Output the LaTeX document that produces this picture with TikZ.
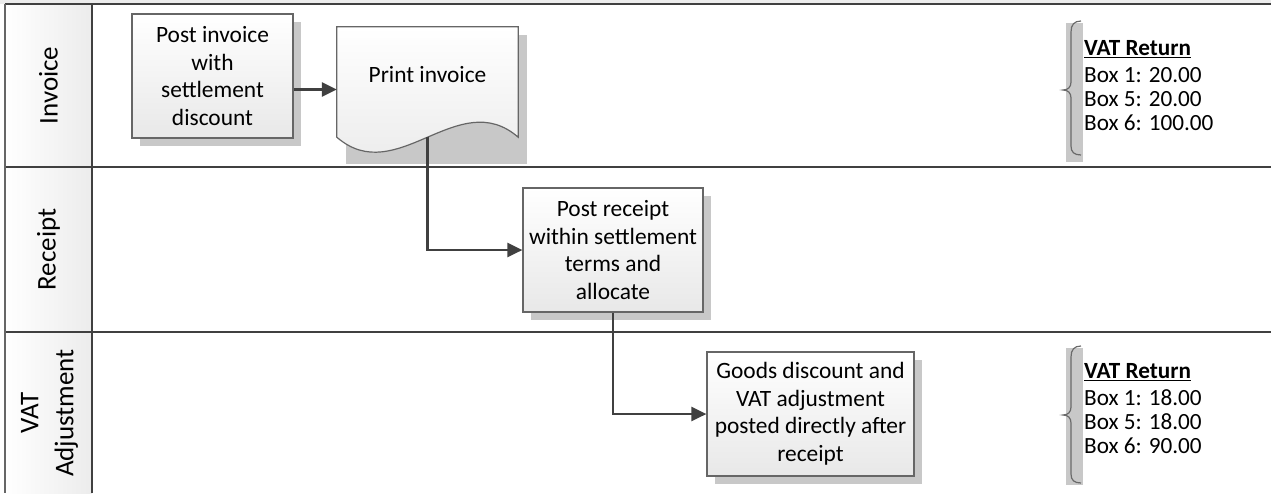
\documentclass[tikz,border=0pt]{standalone}
\usepackage{fontspec}
\setmainfont{Carlito}
\usetikzlibrary{positioning,arrows.meta,calc,shadows,backgrounds}
\definecolor{cLine}{HTML}{404040}
\definecolor{cBorder}{HTML}{666666}
\definecolor{cShadow}{HTML}{C8C8C8}
\definecolor{cFill}{HTML}{E8E8E8}
\definecolor{cHdr}{HTML}{ECECEC}
\definecolor{cArrow}{HTML}{404040}
\definecolor{cBrace}{HTML}{6A6A6A}
\newcommand{\boxfont}{\fontsize{23.4}{27.5}\selectfont}
\newcommand{\lanefont}{\fontsize{27}{35}\selectfont}
\newcommand{\vatfont}{\fontsize{23.2}{24}\selectfont}
\tikzset{
  lane/.style   ={draw=cLine, line width=2.5pt},
  hdr/.style    ={left color=white, right color=cHdr, draw=none},
  hlbl/.style   ={rotate=90, align=center, font=\lanefont, inner sep=0pt},
  proc/.style   ={draw=cBorder, line width=1.2pt, top color=white, bottom color=cFill,
                  align=center, font=\boxfont, inner sep=2pt, minimum height=124pt,
                  drop shadow={shadow xshift=8pt, shadow yshift=-8pt, fill=cShadow, opacity=1}},
  doc/.style    ={minimum width=181pt, minimum height=125pt, inner sep=0pt},
  docline/.style={draw=cBorder, line width=1.2pt, top color=white, bottom color=cFill},
  arr/.style    ={-{Triangle[length=15pt,width=14pt]}, draw=cArrow, line width=2.5pt},
  brc/.style    ={draw=cBrace, line width=1.2pt},
  ret/.style    ={anchor=west, align=left, inner sep=0pt, font=\vatfont},
}

\begin{document}
\begin{tikzpicture}[x=1pt, y=-1pt]
\useasboundingbox (0,0) rectangle (1271,493);

% pool and lanes
\fill[cHdr] (0,0) rectangle (1271,4);
\path[hdr] (5,4) rectangle (92,167);
\path[hdr] (5,167) rectangle (92,332);
\path[hdr] (5,332) rectangle (92,493);
\draw[lane] (5,4) -- (1271,4);
\draw[lane] (5,167) -- (1271,167);
\draw[lane] (5,332) -- (1271,332);
\draw[lane] (92,4) -- (92,493);
\draw[lane, draw=cBorder, line width=1.8pt] (5,4) -- (5,493);

\node[hlbl] (hInv) at (48.5,85.5) {Invoice};
\node[hlbl] (hRec) at (48.5,249.5) {Receipt};
\node[hlbl] (hVat) at (49.5,413) {VAT\\Adjustment};

% process steps
\node[proc, minimum width=161pt] (post) at (212.5,76)
   {Post invoice\\ with\\ settlement\\ discount};
\node[doc] (print) at (427.5,89.5) {};
\node[proc, minimum width=180pt] (receipt) at (613,250)
   {Post receipt\\ within settlement\\ terms and\\ allocate};
\node[proc, minimum width=207pt] (goods) at (810.5,414)
   {Goods discount and\\ VAT adjustment\\ posted directly after\\ receipt};

\begin{scope}[on background layer]
\fill[cShadow] ([shift={(9pt,-8pt)}]print.north west) rectangle ([shift={(9pt,-12pt)}]print.south east);
\draw[docline] (print.north west) -- ([yshift=15pt]print.south west)
   .. controls +(60pt,-52pt) and +(-60pt,52pt) .. ([yshift=15pt]print.south east)
   -- (print.north east) -- cycle;
\end{scope}
\node[font=\boxfont, inner sep=0pt] (printtxt) at ([yshift=14.5pt]print.center) {Print invoice};

% VAT return notes
\fill[cShadow] (1066,23) rectangle (1083,162);
\draw[brc] (1081,21) .. controls (1074,21) and (1071,25) .. (1071,32) -- (1071,82)
   .. controls (1071,87) and (1068,90) .. (1063,90)
   .. controls (1068,90) and (1071,93) .. (1071,98) -- (1071,146)
   .. controls (1071,152) and (1074,155) .. (1081,155);
\node[ret] (ret1) at (1084,86)
   {\underline{\textbf{VAT Return}}\\[3pt] Box 1: 20.00\\ Box 5: 20.00\\ Box 6: 100.00};

\fill[cShadow] (1066,348) rectangle (1083,485);
\draw[brc] (1081,346) .. controls (1074,346) and (1071,350) .. (1071,357) -- (1071,407)
   .. controls (1071,412) and (1068,415) .. (1063,415)
   .. controls (1068,415) and (1071,418) .. (1071,423) -- (1071,474)
   .. controls (1071,480) and (1074,483) .. (1081,483);
\node[ret] (ret2) at (1084,408.5)
   {\underline{\textbf{VAT Return}}\\[3pt] Box 1: 18.00\\ Box 5: 18.00\\ Box 6: 90.00};

% connectors
\draw[arr] (post.east |- print.west) -- (print.west);
\draw[arr] ([yshift=15pt]print.south) |- (receipt.west);
\draw[arr] (receipt.south) |- (goods.west);
\end{tikzpicture}
\end{document}
